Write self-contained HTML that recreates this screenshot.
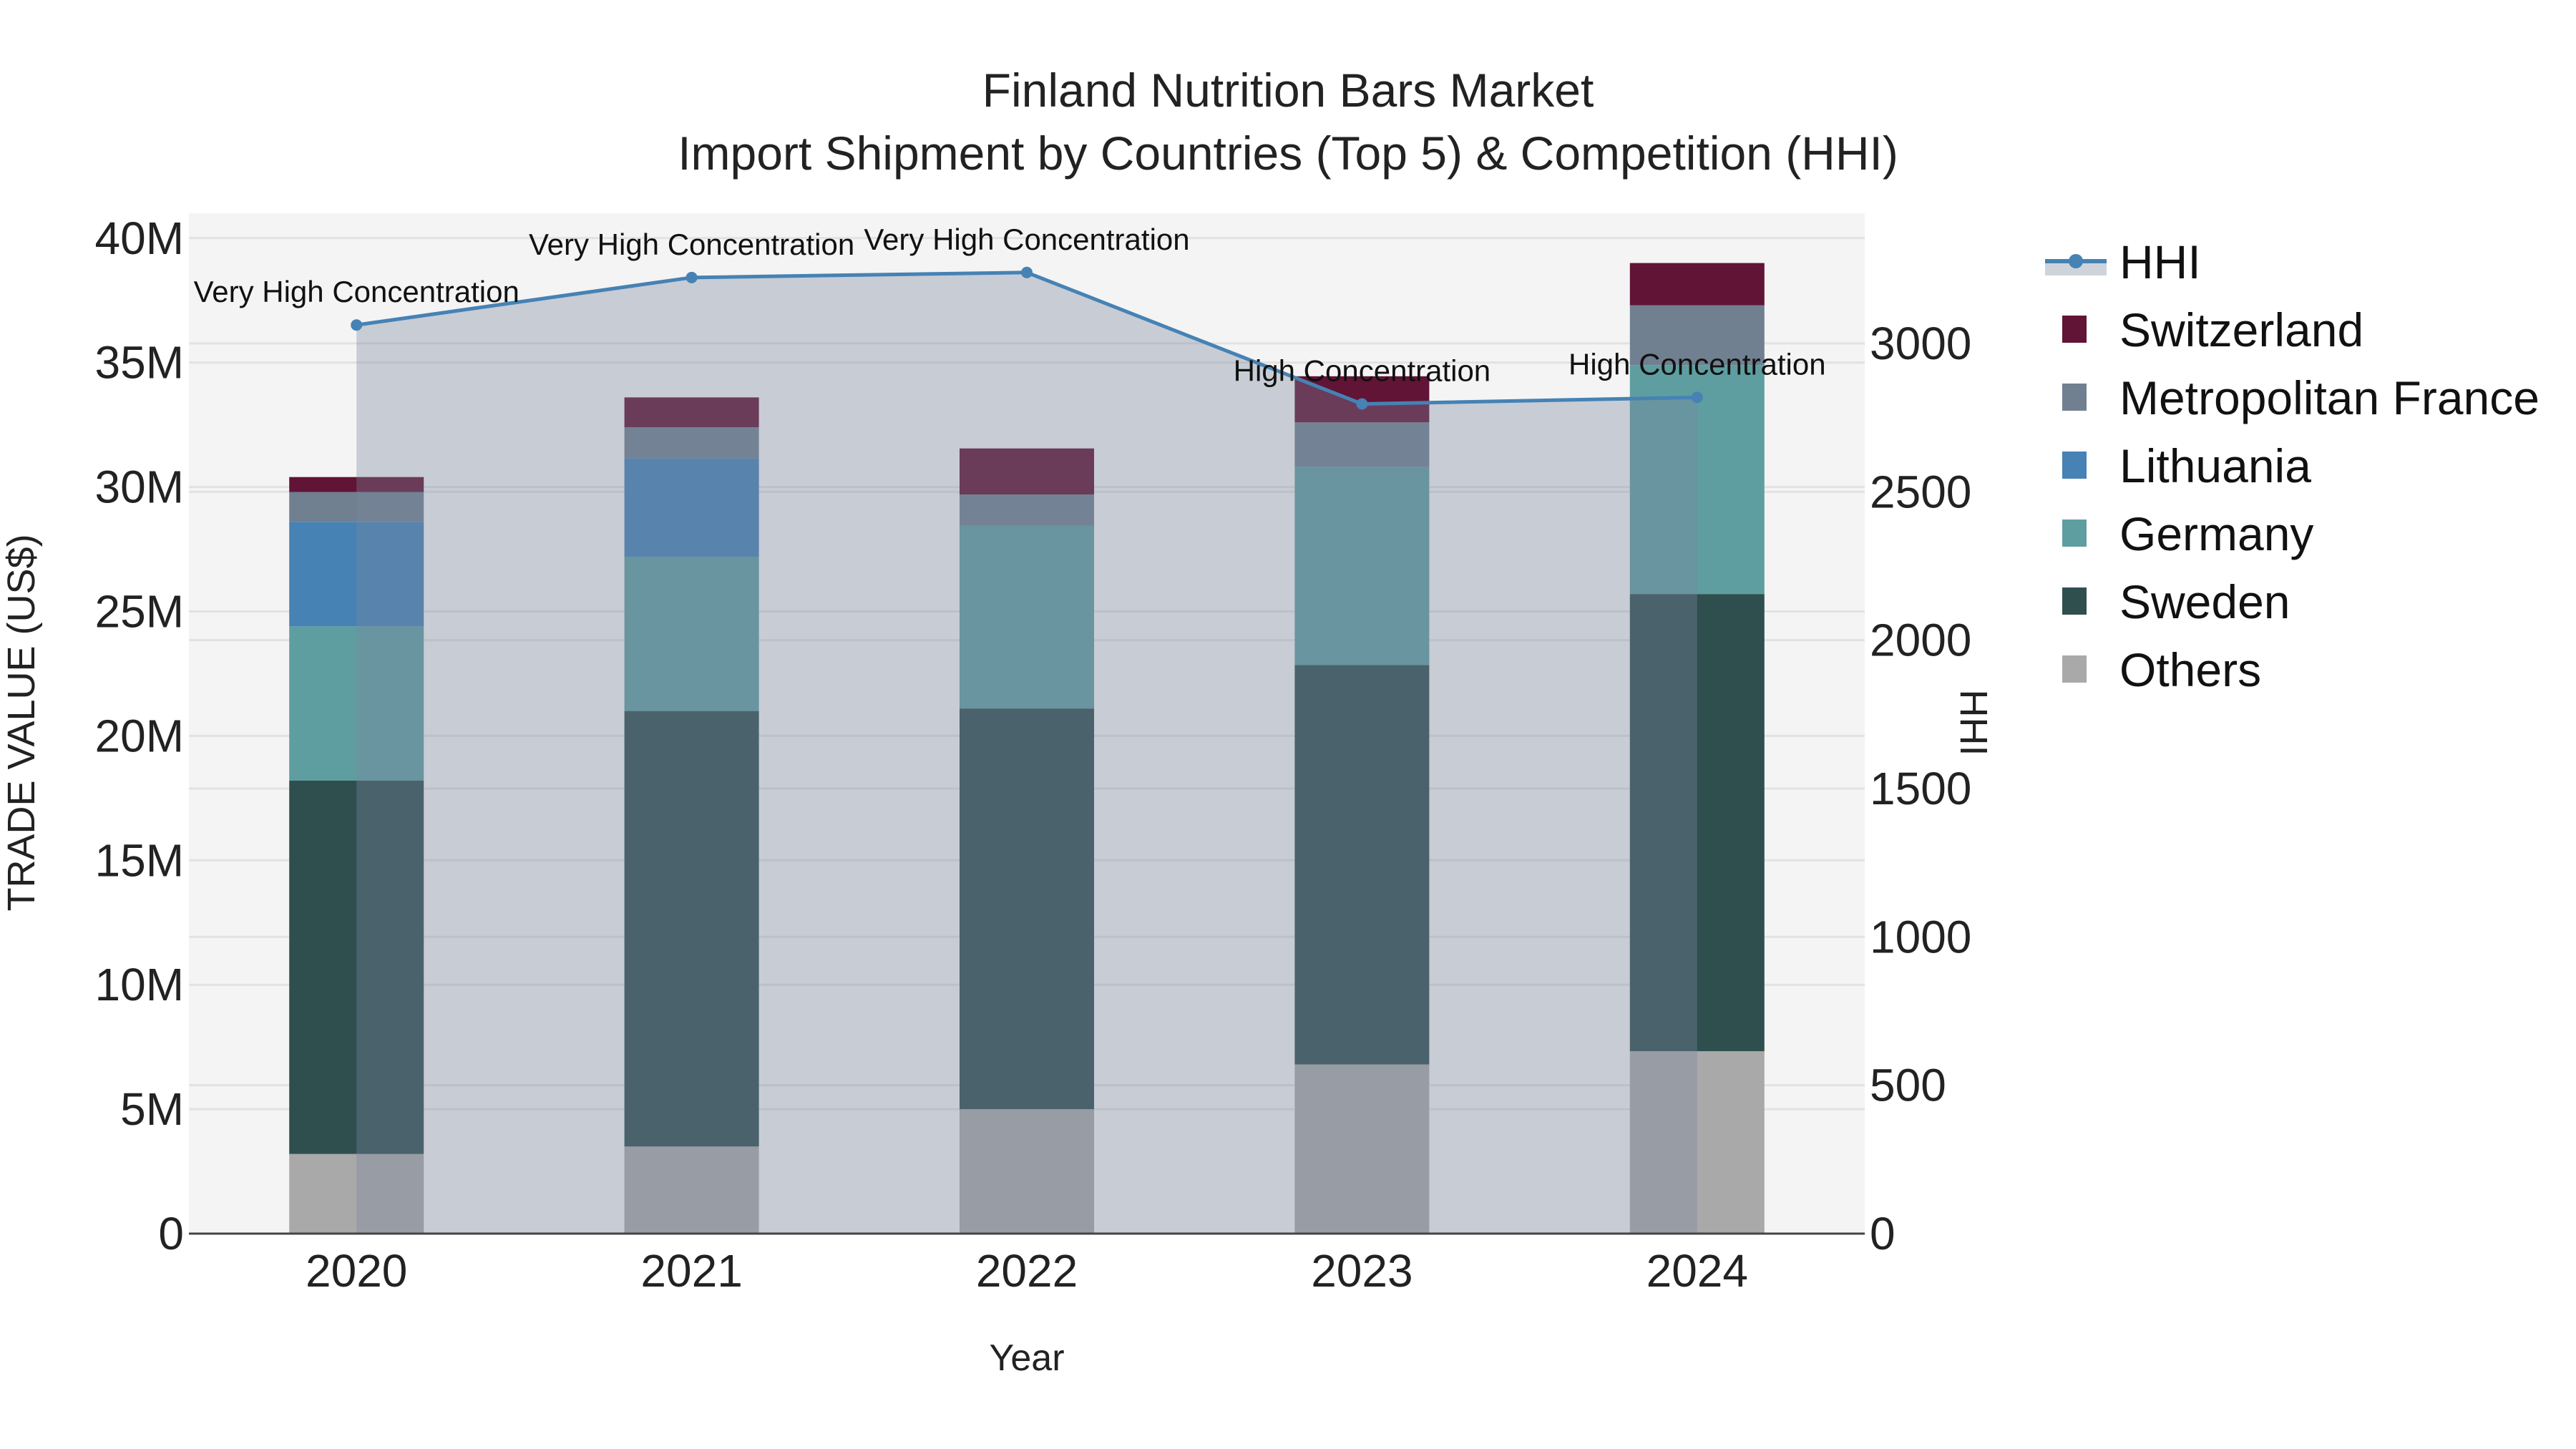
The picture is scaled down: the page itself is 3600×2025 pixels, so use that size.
<!DOCTYPE html>
<html><head><meta charset="utf-8"><style>
html,body{margin:0;padding:0;background:#fff}
svg{display:block;font-family:"Liberation Sans",Arial,sans-serif}
</style></head><body>
<svg id="chart" width="3600" height="2025" viewBox="0 0 3600 2025" xmlns="http://www.w3.org/2000/svg">
<rect x="0" y="0" width="3600" height="2025" fill="#fff"/>
<rect x="264" y="298" width="2342" height="1426" fill="#f4f4f4"/>
<g id="grid"></g><g id="bars"></g><g id="hhi"></g><g id="axes"></g><g id="legend"></g>
<text x="1800" y="149" text-anchor="middle" font-size="66" fill="#222">Finland Nutrition Bars Market</text>
<text x="1800" y="237" text-anchor="middle" font-size="66" fill="#222">Import Shipment by Countries (Top 5) &amp; Competition (HHI)</text>
<text x="1435" y="1915" text-anchor="middle" font-size="52" fill="#222">Year</text>
<text transform="translate(48,1010) rotate(-90)" text-anchor="middle" font-size="54" fill="#222">TRADE VALUE (US$)</text>
<text transform="translate(2740,1010) rotate(90)" text-anchor="middle" font-size="54" fill="#222">HHI</text>
</svg>
<script>
const years = ["2020","2021","2022","2023","2024"];
const others = [3.2, 3.5, 5.0, 6.8, 7.33];
const sweden = [15.0, 17.5, 16.1, 16.05, 18.37];
const germany = [6.2, 6.2, 7.35, 7.95, 9.2];
const lithuania = [4.2, 3.95, 0, 0, 0];
const france = [1.2, 1.25, 1.25, 1.8, 2.4];
const switzerland = [0.6, 1.2, 1.85, 1.85, 1.7];
const hhi = [3062, 3222, 3239, 2796, 2818];
const hhiLabels = ["Very High Concentration","Very High Concentration","Very High Concentration","High Concentration","High Concentration"];
const yTicks = [0,5,10,15,20,25,30,35,40];
const yTickLabels = ["0","5M","10M","15M","20M","25M","30M","35M","40M"];
const y2Ticks = [0,500,1000,1500,2000,2500,3000];

const NS="http://www.w3.org/2000/svg";
const X0=264,X1=2606,YB=1724,YT=298;
const band=(X1-X0)/years.length;
const xc=i=>X0+band*(i+0.5);
const yv=v=>YB-v*34.78;
const y2=v=>YB-v*0.4147;
function mk(tag,attrs,parent){const e=document.createElementNS(NS,tag);for(const k in attrs)e.setAttribute(k,attrs[k]);parent.appendChild(e);return e;}
const G=id=>document.getElementById(id);

yTicks.forEach(t=>{const l=mk('line',{x1:X0,x2:X1,y1:yv(t*1),y2:yv(t*1),stroke:'#e2e2e2','stroke-width':3},G('grid'));

});
y2Ticks.forEach(t=>{const l=mk('line',{x1:X0,x2:X1,y1:y2(t),y2:y2(t),stroke:'#e2e2e2','stroke-width':3},G('grid'));

});

const series=[["others",others,"#a9a9a9"],["sweden",sweden,"#2f4f4f"],["germany",germany,"#5f9ea0"],["lithuania",lithuania,"#4682b4"],["france",france,"#708090"],["switzerland",switzerland,"#611435"]];
const bw=188;
years.forEach((yr,i)=>{let base=0;series.forEach(s=>{const v=s[1][i];if(v>0){const r=mk('rect',{x:xc(i)-bw/2,y:yv(base+v),width:bw,height:yv(base)-yv(base+v),fill:s[2]},G('bars'));

}base+=v;});});

let d='M'+xc(0)+','+YB;hhi.forEach((h,i)=>{d+=' L'+xc(i)+','+y2(h);});d+=' L'+xc(hhi.length-1)+','+YB+' Z';
const area=mk('path',{d:d,fill:'rgba(123,134,157,0.36)'},G('hhi'));


const pl=mk('polyline',{points:hhi.map((h,i)=>xc(i)+','+y2(h)).join(' '),fill:'none',stroke:'#4682b4','stroke-width':5},G('hhi'));


hhi.forEach((h,i)=>{const c=mk('circle',{cx:xc(i),cy:y2(h),r:8,fill:'#4682b4'},G('hhi'));


const t=mk('text',{x:xc(i),y:y2(h)-32,'text-anchor':'middle','font-size':42,fill:'#111'},G('hhi'));t.textContent=hhiLabels[i];

});

const ax=mk('line',{x1:X0,x2:X1,y1:YB,y2:YB,stroke:'#444','stroke-width':3},G('axes'));


yTicks.forEach((t,i)=>{const e=mk('text',{x:257,y:yv(t)+22,'text-anchor':'end','font-size':64,fill:'#222'},G('axes'));e.textContent=yTickLabels[i];

});
y2Ticks.forEach(t=>{const e=mk('text',{x:2613,y:y2(t)+22,'font-size':64,fill:'#222'},G('axes'));e.textContent=String(t);

});
years.forEach((yr,i)=>{const e=mk('text',{x:xc(i),y:1798,'text-anchor':'middle','font-size':64,fill:'#222'},G('axes'));e.textContent=yr;

});

const lg=G('legend');
const hl=mk('rect',{x:2858,y:367,width:86,height:18,fill:'#cfd4db'},lg);


const hln=mk('line',{x1:2858,x2:2944,y1:365,y2:365,stroke:'#4682b4','stroke-width':6},lg);


const hc=mk('circle',{cx:2901,cy:365,r:10,fill:'#4682b4'},lg);


const ht=mk('text',{x:2962,y:389,'font-size':66,fill:'#111'},lg);ht.textContent='HHI';


const legItems=[["Switzerland","#611435"],["Metropolitan France","#708090"],["Lithuania","#4682b4"],["Germany","#5f9ea0"],["Sweden","#2f4f4f"],["Others","#a9a9a9"]];
legItems.forEach((it,k)=>{const cy=460+k*95;
const r=mk('rect',{x:2882,y:cy-19,width:34,height:38,fill:it[1]},lg);


const t=mk('text',{x:2962,y:cy+24,'font-size':66,fill:'#111'},lg);t.textContent=it[0];

});
</script>
</body></html>
